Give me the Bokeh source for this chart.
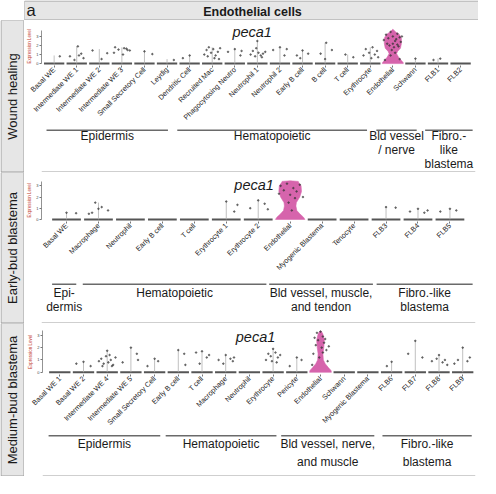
import math
from bokeh.plotting import figure
from bokeh.layouts import column, row
from bokeh.models import Range1d, FixedTicker, Label, Span
from bokeh.core.properties import value
from bokeh.embed import file_html
from bokeh.resources import INLINE

FONT = "Liberation Sans"
VIOLIN = "#d664ac"
PANEL_BG = "#e6e6e6"
BORDER = "#9e9e9e"
TXT = "#1a1a1a"
GENE = "peca1"
HEADER = "Endothelial cells"
PANEL_LETTER = "a"

# ---------------- Panel 1: Wound healing ----------------
p1_name = "Wound healing"
p1_cats = ["Basal WE", "Intermediate WE 1", "Intermediate WE 2", "Intermediate WE 3",
           "Small Secretory Cell", "Leydig", "Dendritic Cell", "Recruited Mac",
           "Phagocytosing Neutro", "Neutrophil 1", "Neutrophil 2", "Early B cell",
           "B cell", "T cell", "Erythrocyte", "Endothelial", "Schwann", "FLB1", "FLB2"]
p1_max = [0.9, 1.9, 1.6, 1.8, 1.35, 0.5, 0.9, 1.8, 1.6, 2.5, 1.8, 1.45, 2.3, 1.0, 1.8,
          3.8, 0.55, 0.55, 0.0]
p1_violin_cat = "Endothelial"
p1_violin_y = [0, 0.1, 0.35, 0.7, 1.1, 1.35, 1.7, 2.2, 2.8, 3.2, 3.5, 3.8]
p1_violin_w = [1, 1, 0.82, 0.55, 0.36, 0.45, 0.73, 0.82, 0.82, 0.64, 0.27, 0]
p1_points = [
    ("Basal WE", 0.25, 0.8),
    ("Intermediate WE 1", -0.3, 0.8), ("Intermediate WE 1", 0.05, 1.9), ("Intermediate WE 1", 0.1, 0.9),
    ("Intermediate WE 1", -0.1, 0.4), ("Intermediate WE 1", 0.3, 0.6), ("Intermediate WE 1", 0.2, 1.1),
    ("Intermediate WE 2", -0.3, 1.45), ("Intermediate WE 2", 0.35, 1.15), ("Intermediate WE 2", 0.1, 0.5),
    ("Intermediate WE 3", -0.3, 1.8), ("Intermediate WE 3", -0.15, 1.55), ("Intermediate WE 3", 0.1, 1.7),
    ("Intermediate WE 3", 0.25, 1.5), ("Intermediate WE 3", 0.35, 1.45), ("Intermediate WE 3", -0.35, 1.2),
    ("Intermediate WE 3", 0.05, 1.0), ("Intermediate WE 3", 0.2, 1.65),
    ("Small Secretory Cell", 0.0, 1.35), ("Small Secretory Cell", 0.35, 1.05),
    ("Leydig", 0.3, 0.4),
    ("Dendritic Cell", -0.3, 0.6), ("Dendritic Cell", 0.0, 0.9),
    ("Recruited Mac", -0.35, 1.0), ("Recruited Mac", -0.25, 1.5), ("Recruited Mac", -0.15, 1.8),
    ("Recruited Mac", -0.05, 1.2), ("Recruited Mac", 0.05, 1.6), ("Recruited Mac", 0.15, 0.9),
    ("Recruited Mac", 0.25, 1.3), ("Recruited Mac", 0.35, 1.7), ("Recruited Mac", 0.1, 0.6),
    ("Recruited Mac", -0.2, 0.8), ("Recruited Mac", 0.3, 0.5),
    ("Phagocytosing Neutro", -0.3, 1.3), ("Phagocytosing Neutro", 0.0, 1.6),
    ("Phagocytosing Neutro", 0.25, 0.9), ("Phagocytosing Neutro", 0.3, 1.4),
    ("Neutrophil 1", 0.0, 2.5), ("Neutrophil 1", -0.3, 1.0), ("Neutrophil 1", -0.2, 1.4),
    ("Neutrophil 1", -0.1, 0.8), ("Neutrophil 1", 0.05, 1.2), ("Neutrophil 1", 0.15, 0.9),
    ("Neutrophil 1", 0.25, 1.1), ("Neutrophil 1", 0.35, 1.3), ("Neutrophil 1", -0.05, 1.7),
    ("Neutrophil 1", 0.2, 0.7),
    ("Neutrophil 2", 0.0, 1.8), ("Neutrophil 2", -0.3, 1.5), ("Neutrophil 2", 0.3, 1.6), ("Neutrophil 2", 0.2, 0.9),
    ("Early B cell", 0.0, 1.45), ("Early B cell", -0.25, 0.9), ("Early B cell", 0.25, 1.1), ("Early B cell", -0.1, 0.6),
    ("B cell", 0.05, 2.3), ("B cell", -0.2, 1.1), ("B cell", 0.3, 1.5), ("B cell", 0.0, 0.5),
    ("T cell", -0.1, 1.0), ("T cell", 0.25, 0.7),
    ("Erythrocyte", -0.3, 0.9), ("Erythrocyte", -0.2, 1.6), ("Erythrocyte", -0.05, 1.2),
    ("Erythrocyte", 0.1, 1.8), ("Erythrocyte", 0.2, 1.0), ("Erythrocyte", 0.3, 1.4),
    ("Erythrocyte", 0.35, 0.7), ("Erythrocyte", 0.05, 0.6),
    ("Endothelial", -0.3, 3.2), ("Endothelial", -0.2, 2.8), ("Endothelial", -0.1, 3.5),
    ("Endothelial", 0.0, 3.0), ("Endothelial", 0.1, 2.5), ("Endothelial", 0.2, 3.3),
    ("Endothelial", 0.3, 2.9), ("Endothelial", -0.25, 2.2), ("Endothelial", -0.15, 2.0),
    ("Endothelial", 0.05, 1.8), ("Endothelial", 0.15, 2.7), ("Endothelial", 0.25, 1.9),
    ("Endothelial", -0.05, 1.5), ("Endothelial", 0.1, 1.2), ("Endothelial", -0.1, 0.9),
    ("Endothelial", 0.3, 0.5), ("Endothelial", -0.35, 0.4), ("Endothelial", 0.35, 2.4),
    ("Endothelial", -0.4, 2.6), ("Endothelial", 0.4, 3.0), ("Endothelial", 0.0, 2.2),
    ("Endothelial", 0.2, 2.1),
    ("Schwann", 0.0, 0.55),
    ("FLB1", 0.1, 0.55), ("FLB1", -0.2, 0.4),
]
p1_groups = ["Epidermis", "Hematopoietic", "Bld vessel\n/ nerve", "Fibro.-\nlike\nblastema"]
p1_group_start = [0.01, 6.04, 15.22, 17.47]
p1_group_end = [5.61, 14.79, 17.08, 19.66]

# ---------------- Panel 2: Early-bud blastema ----------------
p2_name = "Early-bud blastema"
p2_cats = ["Basal WE", "Macrophage", "Neutrophil", "Early B cell", "T cell",
           "Erythrocyte 1", "Erythrocyte 2", "Endothelial", "Myogenic Blastema",
           "Tenocyte", "FLB3", "FLB4", "FLB5"]
p2_max = [0.6, 1.5, 0.0, 0.0, 0.0, 1.6, 1.7, 3.45, 0.0, 0.0, 1.1, 0.95, 0.95]
p2_violin_cat = "Endothelial"
p2_violin_y = [0, 0.2, 0.5, 0.8, 1.2, 1.5, 2.0, 2.5, 3.0, 3.3, 3.4, 3.45]
p2_violin_w = [1, 0.9, 0.65, 0.45, 0.39, 0.42, 0.65, 0.77, 0.74, 0.58, 0.55, 0]
p2_points = [
    ("Basal WE", 0.0, 0.6), ("Basal WE", 0.3, 0.55),
    ("Macrophage", -0.3, 0.5), ("Macrophage", -0.1, 1.5), ("Macrophage", 0.1, 1.1),
    ("Macrophage", 0.0, 0.95), ("Macrophage", 0.3, 0.8), ("Macrophage", -0.2, 0.6),
    ("Erythrocyte 1", 0.0, 1.6), ("Erythrocyte 1", 0.25, 0.7), ("Erythrocyte 1", 0.35, 1.3),
    ("Erythrocyte 2", 0.0, 1.7), ("Erythrocyte 2", 0.2, 1.4), ("Erythrocyte 2", 0.3, 0.9),
    ("Erythrocyte 2", -0.25, 1.0),
    ("Endothelial", -0.3, 3.0), ("Endothelial", -0.1, 3.2), ("Endothelial", 0.1, 2.8),
    ("Endothelial", 0.2, 2.5), ("Endothelial", 0.0, 2.2), ("Endothelial", -0.2, 2.6),
    ("Endothelial", 0.3, 3.1), ("Endothelial", 0.15, 1.9), ("Endothelial", -0.05, 1.5),
    ("Endothelial", 0.4, 2.0), ("Endothelial", -0.35, 2.3), ("Endothelial", 0.05, 0.8),
    ("FLB3", 0.0, 1.1), ("FLB3", 0.3, 1.05),
    ("FLB4", -0.25, 0.7), ("FLB4", 0.0, 0.95), ("FLB4", 0.2, 0.6), ("FLB4", 0.3, 0.8),
    ("FLB5", -0.3, 0.7), ("FLB5", 0.0, 0.95), ("FLB5", 0.2, 0.8),
]
p2_groups = ["Epi-\ndermis", "Hematopoietic", "Bld vessel, muscle,\nand tendon", "Fibro.-like\nblastema"]
p2_group_start = [0.22, 1.21, 7.23, 10.7]
p2_group_end = [1.0, 7.14, 10.58, 13.8]

# ---------------- Panel 3: Medium-bud blastema ----------------
p3_name = "Medium-bud blastema"
p3_cats = ["Basal WE 1", "Basal WE 2", "Intermediate WE 4", "Intermediate WE 5",
           "Small Secretory Cell", "Early B cell", "T cell", "Macrophage", "Neutrophil",
           "Erythrocyte", "Pericyte", "Endothelial", "Schwann", "Myogenic Blastema",
           "FLB6", "FLB7", "FLB8", "FLB9"]
p3_max = [0.0, 0.85, 1.75, 2.0, 1.1, 1.8, 1.7, 1.4, 0.0, 1.9, 1.2, 3.35, 0.0, 0.0,
          0.85, 2.55, 1.4, 2.0]
p3_violin_cat = "Endothelial"
p3_violin_y = [0, 0.15, 0.4, 0.7, 1.0, 1.5, 2.0, 2.6, 3.1, 3.3, 3.35]
p3_violin_w = [1, 0.96, 0.7, 0.43, 0.26, 0.22, 0.3, 0.35, 0.22, 0.09, 0]
p3_points = [
    ("Basal WE 2", -0.3, 0.7), ("Basal WE 2", 0.0, 0.85), ("Basal WE 2", 0.3, 0.5),
    ("Intermediate WE 4", -0.35, 0.9), ("Intermediate WE 4", -0.25, 1.1), ("Intermediate WE 4", -0.15, 0.7),
    ("Intermediate WE 4", -0.05, 1.3), ("Intermediate WE 4", 0.05, 0.8), ("Intermediate WE 4", 0.15, 1.0),
    ("Intermediate WE 4", 0.25, 0.6), ("Intermediate WE 4", 0.35, 1.2), ("Intermediate WE 4", 0.0, 1.75),
    ("Intermediate WE 4", 0.2, 0.5), ("Intermediate WE 4", -0.2, 0.5), ("Intermediate WE 4", 0.1, 1.4),
    ("Intermediate WE 5", 0.0, 2.0), ("Intermediate WE 5", -0.35, 0.8), ("Intermediate WE 5", 0.25, 1.5),
    ("Intermediate WE 5", 0.3, 1.0),
    ("Small Secretory Cell", -0.3, 0.5), ("Small Secretory Cell", 0.0, 1.1), ("Small Secretory Cell", 0.15, 0.9),
    ("Early B cell", 0.0, 1.8), ("Early B cell", 0.25, 1.5), ("Early B cell", 0.3, 0.6),
    ("T cell", -0.25, 1.6), ("T cell", 0.0, 1.7), ("T cell", 0.2, 1.2), ("T cell", 0.3, 1.4), ("T cell", -0.1, 0.7),
    ("Macrophage", -0.3, 1.0), ("Macrophage", -0.1, 0.7), ("Macrophage", 0.0, 1.4),
    ("Macrophage", 0.2, 1.1), ("Macrophage", 0.3, 0.9), ("Macrophage", 0.35, 1.2),
    ("Erythrocyte", -0.3, 1.0), ("Erythrocyte", -0.2, 1.5), ("Erythrocyte", -0.1, 1.3),
    ("Erythrocyte", 0.0, 1.9), ("Erythrocyte", 0.1, 1.6), ("Erythrocyte", 0.2, 1.2),
    ("Erythrocyte", 0.3, 1.4), ("Erythrocyte", 0.15, 0.8), ("Erythrocyte", -0.05, 0.9),
    ("Pericyte", -0.3, 0.5), ("Pericyte", 0.0, 1.2), ("Pericyte", 0.2, 1.0),
    ("Endothelial", -0.15, 3.2), ("Endothelial", 0.0, 3.3), ("Endothelial", 0.1, 2.9),
    ("Endothelial", -0.1, 2.6), ("Endothelial", 0.15, 2.4), ("Endothelial", -0.2, 2.2),
    ("Endothelial", 0.05, 2.0), ("Endothelial", 0.25, 1.8), ("Endothelial", -0.3, 1.5),
    ("Endothelial", 0.2, 2.7), ("Endothelial", -0.05, 1.2), ("Endothelial", 0.3, 0.9),
    ("Endothelial", -0.35, 0.6), ("Endothelial", 0.35, 2.1), ("Endothelial", -0.25, 2.8),
    ("Endothelial", 0.1, 1.6),
    ("FLB6", -0.2, 0.5), ("FLB6", 0.0, 0.85),
    ("FLB7", -0.3, 1.5), ("FLB7", 0.0, 2.55), ("FLB7", 0.3, 1.2),
    ("FLB8", -0.3, 0.9), ("FLB8", -0.1, 1.1), ("FLB8", 0.0, 1.4), ("FLB8", 0.15, 0.8),
    ("FLB8", 0.25, 1.0), ("FLB8", 0.35, 0.6),
    ("FLB9", -0.35, 0.7), ("FLB9", -0.2, 1.0), ("FLB9", 0.0, 2.0), ("FLB9", 0.2, 0.9), ("FLB9", 0.3, 1.2),
]
p3_groups = ["Epidermis", "Hematopoietic", "Bld vessel, nerve,\nand muscle", "Fibro.-like\nblastema"]
p3_group_start = [-0.22, 4.96, 10.07, 14.55]
p3_group_end = [4.72, 9.86, 14.19, 18.5]

y_ticks = [0, 1, 2, 3]

# ---------------- layout parameters (pixels) ----------------
LEFT_W = 24
MAIN_W = 454
HEAD_H = 20
L1 = dict(h=107, gh=45, top=7, bl=15, br=3, bb=58, x0=0.44, x1=19.66, y0=-0.21, y1=3.99,
          ytop=3.7, tx=9.77, ty=3.46, gline=2.7, gtext=1.2, lh=1.0)
L2 = dict(h=109, gh=42, top=7, bl=11, br=3, bb=60, x0=0.217, x1=13.8, y0=-0.19, y1=3.57,
          ytop=3.4, tx=6.87, ty=3.07, gline=2.7, gtext=4.0, lh=1.05)
L3 = dict(h=110, gh=43, top=6, bl=18, br=3, bb=59, x0=0.27, x1=18.54, y0=-0.18, y1=3.47,
          ytop=3.35, tx=9.26, ty=2.88, gline=2.3, gtext=3.4, lh=1.32)

HALF_W = 0.46


def no_title(f):
    try:
        f.title = None
    except Exception:
        f.title.visible = False
    return f


def plain(width, height, xr, yr):
    f = figure(width=width, height=height, x_range=xr, y_range=yr,
               x_axis_type=None, y_axis_type=None, min_border=0,
               output_backend="svg", toolbar_location=None,
               background_fill_color="white", border_fill_color="white")
    f.outline_line_color = None
    return no_title(f)


def panel(cats, maxv, vcat, vy, vw, pts, gnames, gs, ge, L):
    n = len(cats)
    xs = list(range(1, n + 1))
    idx = {c: i for c, i in zip(cats, xs)}
    p = figure(width=MAIN_W, height=L["h"], x_range=Range1d(L["x0"], L["x1"]),
               y_range=Range1d(L["y0"], L["y1"]), output_backend="svg",
               toolbar_location=None, min_border_left=L["bl"], min_border_right=L["br"],
               min_border_top=L["top"], min_border_bottom=L["bb"])
    no_title(p)
    p.outline_line_color = None
    p.grid.visible = False

    # collapsed violins (baseline bars)
    bx = [i for i, c in zip(xs, cats) if c != vcat]
    p.segment(x0=[i - 0.45 for i in bx], y0=0, x1=[i + 0.45 for i in bx], y1=0,
              line_color="#555555", line_width=2)
    # violin tails up to the max value
    tx = [i for i, c, m in zip(xs, cats, maxv) if c != vcat and m > 0]
    tm = [m for c, m in zip(cats, maxv) if c != vcat and m > 0]
    p.segment(x0=tx, y0=0, x1=tx, y1=tm, line_color="#b0b0b0", line_width=0.8)
    # full violin
    vc = idx[vcat]
    px = [vc + w * HALF_W for w in vw] + [vc - w * HALF_W for w in reversed(vw)]
    py = list(vy) + list(reversed(vy))
    p.patch(px, py, fill_color=VIOLIN, line_color=VIOLIN, line_width=0.6)
    # jittered cells
    p.scatter([idx[c] + dx for c, dx, v in pts], [v for c, dx, v in pts],
              size=1.6, color="#333333", alpha=0.6)

    xa = p.xaxis[0]
    xa.ticker = FixedTicker(ticks=xs)
    xa.major_label_overrides = {i: c for i, c in zip(xs, cats)}
    xa.major_label_orientation = math.pi / 4
    xa.axis_line_color = None
    xa.major_tick_out = 2
    xa.major_tick_in = 0
    xa.major_tick_line_color = "#777777"
    xa.minor_tick_line_color = None
    xa.major_label_standoff = 1
    xa.major_label_text_font_size = "7.2px"
    xa.major_label_text_font = FONT
    xa.major_label_text_color = "#222222"

    ya = p.yaxis[0]
    ya.ticker = FixedTicker(ticks=y_ticks)
    ya.bounds = (0, L["ytop"])
    ya.axis_line_color = "#777777"
    ya.axis_line_width = 0.8
    ya.major_tick_out = 2
    ya.major_tick_in = 0
    ya.major_tick_line_color = "#777777"
    ya.minor_tick_line_color = None
    ya.major_label_standoff = 1
    ya.major_label_text_font_size = "4px"
    ya.major_label_text_font = FONT
    ya.major_label_text_color = "#444444"
    ya.axis_label = "Expression Level"
    ya.axis_label_text_font_size = "4.5px"
    ya.axis_label_text_font = FONT
    ya.axis_label_text_font_style = "normal"
    ya.axis_label_text_color = "#c0392b"
    ya.axis_label_standoff = 1

    p.add_layout(Label(x=L["tx"], y=L["ty"], text=GENE, text_align="center",
                       text_baseline="alphabetic", text_font=FONT,
                       text_font_style="italic", text_font_size="14.5px", text_color=TXT))

    ppu = (MAIN_W - L["bl"] - L["br"]) / (L["x1"] - L["x0"])
    g = plain(MAIN_W, L["gh"],
              Range1d(L["x0"] - L["bl"] / ppu, L["x1"] + L["br"] / ppu),
              Range1d(L["gh"], 0))
    g.segment(x0=gs, y0=L["gline"], x1=ge, y1=L["gline"], line_color="#6a6a6a", line_width=1.6)
    g.text(x=[(a + b) / 2 for a, b in zip(gs, ge)], y=L["gtext"], text=gnames,
           text_align="center", text_baseline="top", text_font=value(FONT),
           text_font_size="12px", text_line_height=L["lh"], text_color=TXT)
    g.add_layout(Span(location=L["gh"] - 0.5, dimension="width",
                      line_color=BORDER, line_width=1))
    return column(p, g, spacing=0)


def side(txt, h):
    f = plain(LEFT_W, h, Range1d(0, LEFT_W), Range1d(h, 0))
    f.quad(left=[0.5], right=[LEFT_W - 0.5], top=[0], bottom=[h - 0.5],
           fill_color=PANEL_BG, line_color=BORDER, line_width=1)
    f.text(x=[LEFT_W / 2], y=[h / 2], text=[txt], angle=math.pi / 2,
           text_align="center", text_baseline="middle", text_font=value(FONT),
           text_font_size="13px", text_color=TXT)
    return f


corner = plain(LEFT_W, HEAD_H, Range1d(0, 1), Range1d(0, 1))
head = plain(MAIN_W, HEAD_H, Range1d(0, MAIN_W), Range1d(HEAD_H, 0))
head.quad(left=[0], right=[MAIN_W + 2], top=[0.5], bottom=[HEAD_H - 0.5],
          fill_color=PANEL_BG, line_color=BORDER, line_width=1)
head.text(x=[2], y=[9.6], text=[PANEL_LETTER], text_align="left", text_baseline="middle",
          text_font=value(FONT), text_font_size="16.5px", text_color=TXT)
head.text(x=[228], y=[11.6], text=[HEADER], text_align="center",
          text_baseline="middle", text_font=value(FONT), text_font_size="12.5px",
          text_font_style="bold", text_color=TXT)

r1 = row(side(p1_name, L1["h"] + L1["gh"]),
         panel(p1_cats, p1_max, p1_violin_cat, p1_violin_y, p1_violin_w, p1_points,
               p1_groups, p1_group_start, p1_group_end, L1), spacing=0)
r2 = row(side(p2_name, L2["h"] + L2["gh"]),
         panel(p2_cats, p2_max, p2_violin_cat, p2_violin_y, p2_violin_w, p2_points,
               p2_groups, p2_group_start, p2_group_end, L2), spacing=0)
r3 = row(side(p3_name, L3["h"] + L3["gh"]),
         panel(p3_cats, p3_max, p3_violin_cat, p3_violin_y, p3_violin_w, p3_points,
               p3_groups, p3_group_start, p3_group_end, L3), spacing=0)

layout = column(row(corner, head, spacing=0), r1, r2, r3, spacing=0)

open("out.html", "w").write(file_html(layout, INLINE))
